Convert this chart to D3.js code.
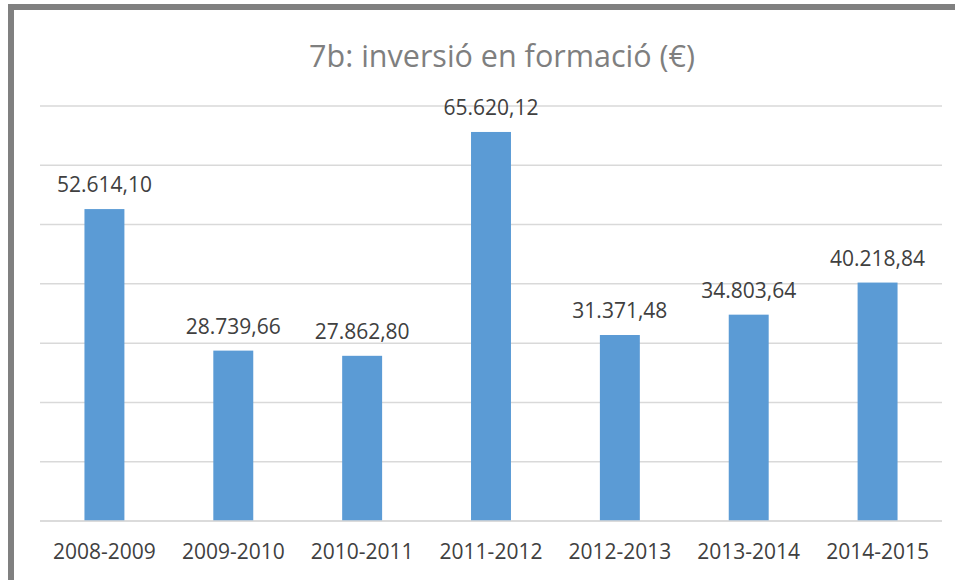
<!DOCTYPE html>
<html>
<head>
<meta charset="utf-8">
<script src="https://d3js.org/d3.v7.min.js"></script>
<style>
  body { margin: 0; background: #fff; }
  svg { display: block; }
  text { font-family: "Open Sans", sans-serif; }
</style>
</head>
<body>
<div id="chart"></div>
<script>
// chart data
var title = "7b: inversió en formació (€)";
var cursos = ["2008-2009", "2009-2010", "2010-2011", "2011-2012", "2012-2013", "2013-2014", "2014-2015"];
var inversio = [52614.10, 28739.66, 27862.80, 65620.12, 31371.48, 34803.64, 40218.84];
var yTicks = [0, 10000, 20000, 30000, 40000, 50000, 60000, 70000];

var w = 955, h = 580;
var plotLeft = 40, plotRight = 942, plotTop = 106, plotBottom = 521;
var barColor = "#5b9bd5";

var fmt = function(v) {
    var parts = v.toFixed(2).split(".");
    return parts[0].replace(/\B(?=(\d{3})+(?!\d))/g, ".") + "," + parts[1];
};

var svg = d3.select("#chart")
    .append("svg")
    .attr("width", w)
    .attr("height", h);

// outer frame
svg.append("rect")
    .attr("x", 11).attr("y", 7)
    .attr("width", w + 20).attr("height", h + 20)
    .style("fill", "#fff")
    .style("stroke", "#808080")
    .style("stroke-width", 6);

var x = d3.scaleBand()
    .domain(cursos)
    .range([plotLeft, plotRight])
    .paddingInner(0.69)
    .paddingOuter(0.345);

var y = d3.scaleLinear()
    .domain([0, 70000])
    .range([plotBottom, plotTop]);

// gridlines
svg.selectAll("line.grid")
    .data(yTicks)
    .enter()
    .append("line")
    .attr("class", "grid")
    .attr("x1", plotLeft)
    .attr("x2", plotRight)
    .attr("y1", function(d) { return y(d); })
    .attr("y2", function(d) { return y(d); })
    .style("stroke", "#d9d9d9")
    .style("stroke-width", 1.5);

// bars
svg.selectAll("rect.bar")
    .data(inversio)
    .enter()
    .append("rect")
    .attr("class", "bar")
    .attr("x", function(d, i) { return x(cursos[i]); })
    .attr("width", x.bandwidth())
    .attr("y", function(d) { return y(d); })
    .attr("height", function(d) { return y(0) - y(d); })
    .style("fill", barColor);

// baseline over bars
svg.append("line")
    .attr("x1", plotLeft).attr("x2", plotRight)
    .attr("y1", y(0)).attr("y2", y(0))
    .style("stroke", "#d9d9d9")
    .style("stroke-width", 1.5);

// value labels
svg.selectAll("text.val")
    .data(inversio)
    .enter()
    .append("text")
    .attr("class", "val")
    .attr("x", function(d, i) { return x(cursos[i]) + x.bandwidth() / 2; })
    .attr("y", function(d) { return y(d) - 17; })
    .attr("text-anchor", "middle")
    .style("font-size", "21px")
    .style("fill", "#404040")
    .text(fmt);

// category axis
var xAxis = svg.append("g")
    .attr("transform", "translate(0," + plotBottom + ")")
    .call(d3.axisBottom(x).tickSize(0).tickPadding(0));
xAxis.select(".domain").remove();
xAxis.selectAll("text")
    .attr("y", 38)
    .attr("dy", 0)
    .style("font-family", "Open Sans, sans-serif")
    .style("font-size", "21px")
    .style("fill", "#404040");

// title
svg.append("text")
    .attr("x", 502)
    .attr("y", 67)
    .attr("text-anchor", "middle")
    .style("font-size", "30.5px")
    .style("fill", "#7f7f7f")
    .text(title);
</script>
</body>
</html>
